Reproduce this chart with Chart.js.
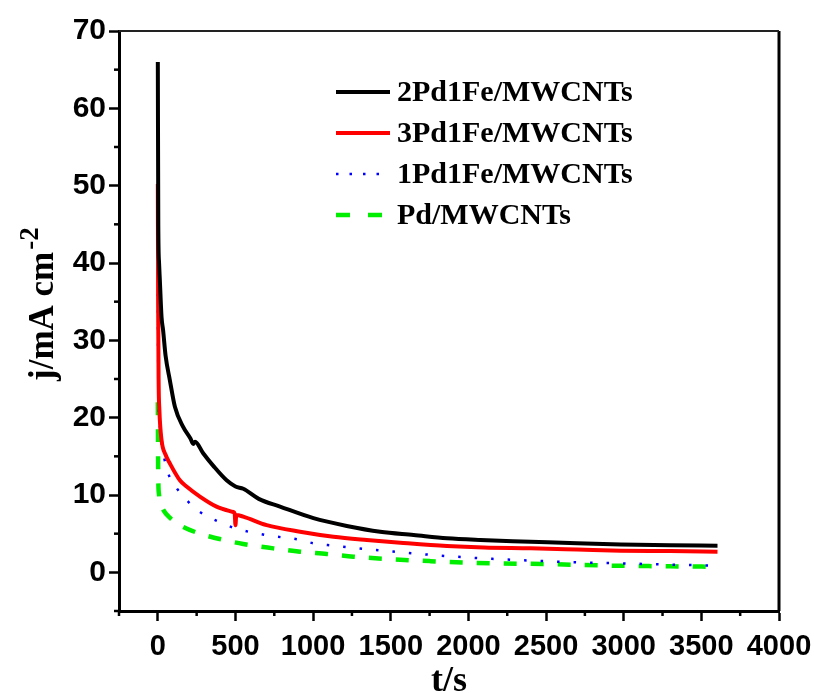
<!DOCTYPE html>
<html>
<head>
<meta charset="utf-8">
<script src="https://cdn.jsdelivr.net/npm/chart.js@4.4.1/dist/chart.umd.min.js"></script>
<style>
  html, body { margin: 0; padding: 0; background: #ffffff; }
</style>
</head>
<body>
<canvas id="chart" width="814" height="693"></canvas>
<script>
// data (t in s, j in mA cm-2)
const seriesLabels = ['2Pd1Fe/MWCNTs', '3Pd1Fe/MWCNTs', '1Pd1Fe/MWCNTs', 'Pd/MWCNTs'];

const time2Pd1Fe = [0, 3, 8, 13, 24, 34, 50, 77, 110, 163, 210, 228, 240, 292, 360, 443, 500, 550, 650, 787, 1002, 1217, 1432, 1647, 1862, 2077, 2400, 2700, 2981, 3300, 3604];
const current2Pd1Fe = [66, 45, 40, 37.8, 33, 31.3, 28, 24.9, 21.4, 18.8, 17.3, 16.6, 16.9, 15.4, 13.7, 11.9, 11.1, 10.8, 9.5, 8.5, 7.0, 6.0, 5.25, 4.83, 4.4, 4.18, 3.96, 3.75, 3.6, 3.5, 3.45];

const time3Pd1Fe = [0, 2, 5, 10, 24, 50, 77, 142, 185, 271, 378, 486, 495, 500, 505, 550, 701, 916, 1131, 1346, 1561, 1862, 2100, 2400, 2700, 2981, 3300, 3604];
const current3Pd1Fe = [50.2, 35, 25, 21, 17.1, 15.2, 14.1, 11.9, 11.1, 9.8, 8.5, 7.8, 7.6, 6.1, 7.4, 7.2, 6.1, 5.25, 4.6, 4.18, 3.83, 3.4, 3.2, 3.1, 2.95, 2.8, 2.75, 2.67];

const time1Pd1Fe = [0, 3, 13, 34, 67, 121, 185, 271, 421, 497, 701, 916, 1002, 1131, 1346, 1561, 1862, 2100, 2357, 2700, 2981, 3300, 3604];
const current1Pd1Fe = [36, 25, 19, 15.6, 12.8, 10.9, 9.35, 7.8, 6.3, 5.7, 4.8, 4.2, 3.75, 3.45, 3.0, 2.6, 2.1, 1.8, 1.55, 1.3, 1.16, 1.0, 0.86];

const timePd = [0, 1, 2, 3, 8, 20, 34, 80, 142, 271, 421, 550, 744, 916, 1088, 1260, 1518, 1750, 1992, 2185, 2486, 2937, 3300, 3604];
const currentPd = [22, 18, 14, 12, 10, 8.8, 8.1, 7, 6.1, 5.0, 4.2, 3.66, 3.1, 2.67, 2.37, 2.02, 1.68, 1.45, 1.25, 1.16, 1.07, 0.86, 0.78, 0.72];

const xTickStep = 500;
const yTickStep = 10;

const toPoints = (xs, ys) => xs.map((x, i) => ({x: x, y: ys[i]}));

const serifFont = '"Liberation Serif", "Times New Roman", serif';
const sansFont = '"Liberation Sans", Arial, sans-serif';

// только "круглые" значения, начиная с нуля
const majorTicks = (max, step) => {
    const out = [];
    for (let v = 0; v <= max; v += step) {
        out.push({value: v});
    }
    return out;
};

// легенда внутри области графика
const insideLegend = {
    id: 'insideLegend',
    afterDatasetsDraw(chart) {
        const ctx = chart.ctx;
        chart.data.datasets.forEach((ds, i) => {
            const y = 92 + i * 41;
            ctx.save();
            ctx.strokeStyle = ds.borderColor;
            ctx.lineWidth = ds.borderWidth;
            ctx.setLineDash(ds.legendDash || ds.borderDash || []);
            ctx.beginPath();
            ctx.moveTo(336, y);
            ctx.lineTo(390, y);
            ctx.stroke();
            ctx.setLineDash([]);
            ctx.fillStyle = '#000000';
            ctx.font = 'bold 30px ' + serifFont;
            ctx.textBaseline = 'middle';
            ctx.fillText(ds.label, 397, y + 1);
            ctx.restore();
        });
    }
};

// рамка, мелкие засечки и подпись оси Y
const frameAndMinor = {
    id: 'frameAndMinor',
    afterDraw(chart) {
        const ctx = chart.ctx;
        const area = chart.chartArea;
        const xs = chart.scales.x;
        const ys = chart.scales.y;
        ctx.save();
        ctx.strokeStyle = '#000000';
        ctx.lineWidth = 3;
        ctx.beginPath();
        ctx.moveTo(area.right, area.bottom);
        ctx.lineTo(area.right, area.top);
        ctx.stroke();
        ctx.strokeStyle = '#222222';
        ctx.lineWidth = 2;
        ctx.beginPath();
        ctx.moveTo(area.left, area.top);
        ctx.lineTo(area.right, area.top);
        ctx.stroke();

        ctx.strokeStyle = '#000000';
        ctx.lineWidth = 2.5;
        for (let v = xs.min; v <= xs.max; v += xTickStep / 2) {
            if (v % xTickStep === 0) continue;
            const px = xs.getPixelForValue(v);
            ctx.beginPath();
            ctx.moveTo(px, area.bottom);
            ctx.lineTo(px, area.bottom + 5);
            ctx.stroke();
        }
        for (let v = ys.min; v <= ys.max; v += yTickStep / 2) {
            if (v % yTickStep === 0) continue;
            const py = ys.getPixelForValue(v);
            ctx.beginPath();
            ctx.moveTo(area.left - 5, py);
            ctx.lineTo(area.left, py);
            ctx.stroke();
        }

        // j/mA cm^-2
        ctx.fillStyle = '#000000';
        ctx.translate(53, 381);
        ctx.rotate(-Math.PI / 2);
        ctx.textBaseline = 'alphabetic';
        ctx.font = 'bold 35px ' + serifFont;
        const main = 'j/mA cm';
        ctx.fillText(main, 0, 0);
        const w = ctx.measureText(main).width;
        ctx.font = 'bold 27px ' + serifFont;
        ctx.fillText('-2', w + 2, -15);
        ctx.restore();
    }
};

new Chart(document.getElementById('chart'), {
    type: 'line',
    data: {
        datasets: [
            {
                label: seriesLabels[0],
                data: toPoints(time2Pd1Fe, current2Pd1Fe),
                borderColor: '#000000',
                borderWidth: 4
            },
            {
                label: seriesLabels[1],
                data: toPoints(time3Pd1Fe, current3Pd1Fe),
                borderColor: '#ff0000',
                borderWidth: 4
            },
            {
                label: seriesLabels[2],
                data: toPoints(time1Pd1Fe, current1Pd1Fe),
                borderColor: '#0000ff',
                borderWidth: 2.5,
                borderDash: [2.5, 14],
                legendDash: [2.5, 11]
            },
            {
                label: seriesLabels[3],
                data: toPoints(timePd, currentPd),
                borderColor: '#00ee00',
                borderWidth: 4.5,
                borderDash: [13, 14],
                legendDash: [14, 18]
            }
        ]
    },
    options: {
        responsive: false,
        animation: false,
        elements: {
            point: {radius: 0},
            line: {cubicInterpolationMode: 'monotone', fill: false}
        },
        layout: {
            padding: {top: 31, right: 35, left: 0, bottom: 0}
        },
        plugins: {
            legend: {display: false},
            tooltip: {enabled: false}
        },
        scales: {
            x: {
                type: 'linear',
                min: -250,
                max: 4000,
                afterBuildTicks(scale) {
                    scale.ticks = majorTicks(scale.max, xTickStep);
                },
                afterFit(scale) {
                    scale.height = 82;
                    scale.paddingLeft = 0;
                    scale.paddingRight = 0;
                },
                ticks: {
                    autoSkip: false,
                    maxRotation: 0,
                    padding: 9,
                    color: '#000000',
                    font: {family: sansFont, size: 29, weight: 'bold'},
                    callback: value => String(value)
                },
                grid: {
                    drawOnChartArea: false,
                    drawTicks: true,
                    tickLength: 10,
                    tickWidth: 2.5,
                    tickColor: '#000000'
                },
                border: {display: true, color: '#000000', width: 3},
                title: {
                    display: true,
                    text: 't/s',
                    color: '#000000',
                    font: {family: serifFont, size: 36, weight: 'bold', lineHeight: 1},
                    padding: {top: 0, bottom: -7}
                }
            },
            y: {
                type: 'linear',
                min: -5,
                max: 70,
                afterBuildTicks(scale) {
                    scale.ticks = majorTicks(scale.max, yTickStep);
                },
                afterFit(scale) {
                    scale.width = 119;
                    scale.paddingTop = 0;
                    scale.paddingBottom = 0;
                },
                ticks: {
                    padding: 3,
                    color: '#000000',
                    font: {family: sansFont, size: 30, weight: 'bold'},
                    callback: value => String(value)
                },
                grid: {
                    drawOnChartArea: false,
                    drawTicks: true,
                    tickLength: 10,
                    tickWidth: 2.5,
                    tickColor: '#000000'
                },
                border: {display: true, color: '#000000', width: 3},
                title: {display: false}
            }
        }
    },
    plugins: [insideLegend, frameAndMinor]
});
</script>
</body>
</html>
